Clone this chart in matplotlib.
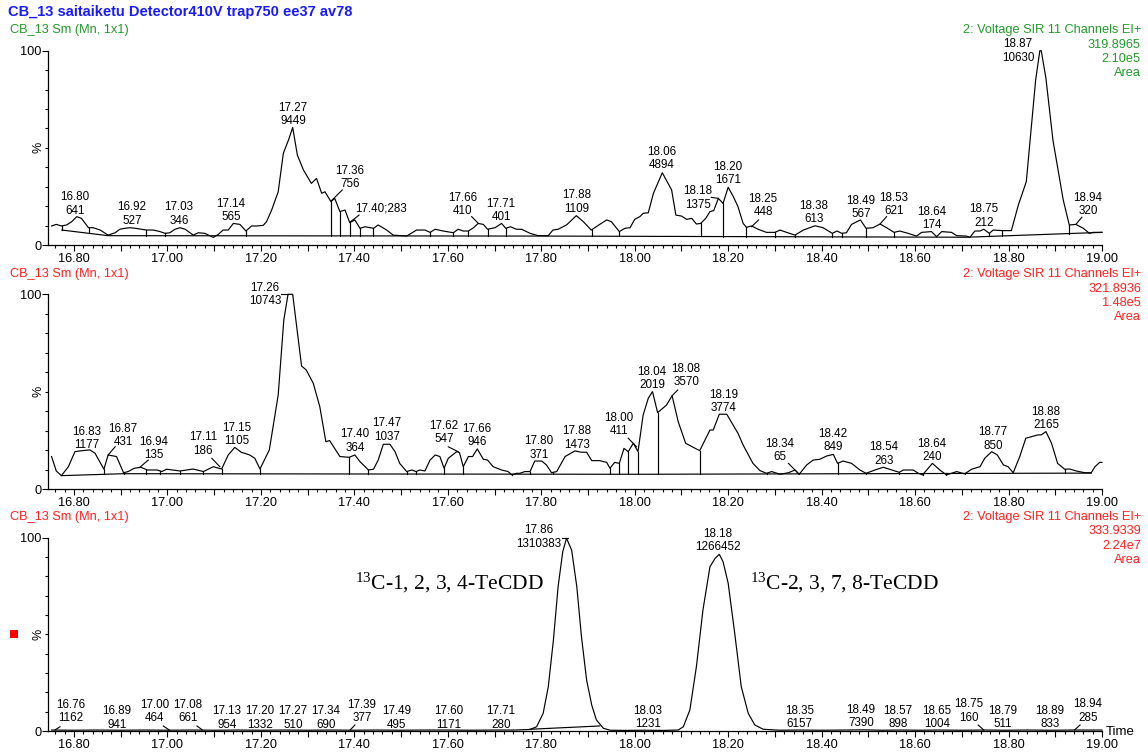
import numpy as np
import matplotlib
matplotlib.use("Agg")
import matplotlib.pyplot as plt
from matplotlib.ticker import MultipleLocator, FuncFormatter
from matplotlib.patches import Rectangle

plt.rcParams['font.family'] = ['Liberation Sans', 'DejaVu Sans']
plt.rcParams['mathtext.fontset'] = 'custom'
plt.rcParams['mathtext.rm'] = 'Liberation Serif'
plt.rcParams['mathtext.it'] = 'Liberation Serif:italic'

# ---------------- DATA ----------------
title = "CB_13 saitaiketu Detector410V trap750 ee37 av78"
sub_header = "CB_13 Sm (Mn, 1x1)"
channel = "2: Voltage SIR 11 Channels EI+"
masses = ["319.8965", "321.8936", "333.9339"]
scales = ["2.10e5", "1.48e5", "2.24e7"]

# Panel 1 (m/z 319.8965)
p1_time = [16.752, 16.762, 16.773, 16.784, 16.795, 16.806, 16.816, 16.831, 16.841, 16.856, 16.873, 16.888,
           16.898, 16.909, 16.920, 16.931, 16.945, 16.955, 16.970, 16.984, 16.995, 17.005, 17.016, 17.027,
           17.038, 17.055, 17.066, 17.080, 17.098, 17.109, 17.119, 17.130, 17.141, 17.155, 17.168, 17.180,
           17.191, 17.205, 17.212, 17.223, 17.237, 17.248, 17.259, 17.268, 17.278, 17.291, 17.308, 17.319,
           17.330, 17.337, 17.350, 17.358, 17.369, 17.380, 17.390, 17.401, 17.412, 17.423, 17.441, 17.451,
           17.469, 17.483, 17.512, 17.533, 17.551, 17.562, 17.573, 17.590, 17.612, 17.622, 17.633, 17.644,
           17.655, 17.665, 17.676, 17.685, 17.701, 17.715, 17.724, 17.734, 17.747, 17.758, 17.776, 17.793,
           17.815, 17.825, 17.836, 17.854, 17.875, 17.890, 17.907, 17.925, 17.940, 17.950, 17.967, 17.979,
           17.990, 18.000, 18.011, 18.018, 18.029, 18.040, 18.059, 18.079, 18.088, 18.100, 18.111, 18.122,
           18.132, 18.141, 18.152, 18.161, 18.169, 18.179, 18.189, 18.200, 18.211, 18.221, 18.232, 18.239,
           18.250, 18.264, 18.282, 18.300, 18.311, 18.325, 18.343, 18.361, 18.386, 18.403, 18.423, 18.433,
           18.443, 18.453, 18.464, 18.483, 18.495, 18.510, 18.525, 18.539, 18.555, 18.567, 18.585, 18.603,
           18.614, 18.635, 18.646, 18.657, 18.678, 18.689, 18.710, 18.717, 18.728, 18.739, 18.747, 18.759,
           18.767, 18.787, 18.806, 18.821, 18.838, 18.858, 18.867, 18.870, 18.880, 18.895, 18.917, 18.930,
           18.944, 18.960, 18.973, 18.981, 19.000]
p1_int = [9.8, 10.6, 9.8, 10.3, 12.0, 14.6, 13.7, 8.9, 8.9, 7.7, 5.1, 6.3,
          8.1, 8.6, 8.9, 8.6, 8.1, 7.7, 7.7, 6.9, 6.0, 6.3, 8.1, 8.9,
          8.1, 5.1, 6.3, 6.0, 3.9, 5.5, 7.7, 7.7, 11.1, 10.6, 7.2, 9.8,
          9.8, 10.1, 12.0, 18.0, 27.4, 47.2, 54.0, 60.5, 46.3, 38.6, 31.7, 34.3,
          26.6, 27.4, 22.3, 24.0, 17.2, 18.0, 11.5, 12.9, 8.6, 9.4, 8.6, 10.3,
          7.7, 5.1, 4.6, 7.7, 7.7, 6.5, 8.1, 7.2, 6.3, 8.1, 7.2, 7.2,
          8.9, 11.1, 10.6, 8.1, 8.9, 11.1, 8.6, 9.4, 8.1, 8.1, 6.0, 4.8,
          4.8, 7.7, 8.1, 10.3, 15.1, 12.0, 7.7, 10.6, 12.9, 12.0, 6.9, 8.6,
          8.9, 13.2, 14.6, 16.3, 16.6, 26.6, 37.2, 28.3, 15.4, 14.9, 13.2, 13.7,
          10.8, 11.1, 13.7, 17.2, 17.7, 24.0, 21.4, 29.7, 24.9, 19.7, 11.1, 9.1,
          9.8, 8.1, 6.5, 6.5, 7.7, 6.5, 5.1, 7.7, 9.9, 8.9, 6.0, 7.2,
          6.0, 6.3, 10.6, 12.9, 8.6, 8.9, 10.8, 8.9, 6.5, 7.2, 6.0, 4.6,
          6.5, 6.9, 4.3, 6.9, 6.5, 4.8, 4.6, 3.9, 7.2, 7.2, 8.1, 6.0,
          7.7, 7.4, 7.4, 20.6, 32.6, 84.9, 100.0, 100.0, 85.8, 54.0, 23.2, 10.3,
          10.6, 8.6, 6.0, 6.5, 6.5]
p1_base_t = [16.774, 16.873, 17.800, 18.710, 19.000]
p1_base_y = [7.7, 4.8, 4.6, 4.0, 6.5]
p1_drops = [16.774, 16.833, 16.955, 16.995, 17.168, 17.350, 17.369, 17.390, 17.412, 17.440,
            17.562, 17.612, 17.644, 17.685, 17.724, 17.908, 17.967, 18.141, 18.189, 18.239,
            18.300, 18.343, 18.423, 18.443, 18.495, 18.555, 18.646, 18.759, 18.787, 18.930]
p1_rt = ["16.80", "16.92", "17.03", "17.14", "17.27", "17.36", "17.40", "17.66", "17.71", "17.88",
         "18.06", "18.18", "18.20", "18.25", "18.38", "18.49", "18.53", "18.64", "18.75", "18.87", "18.94"]
p1_area = ["641", "527", "346", "565", "9449", "756", "283", "410", "401", "1109",
           "4894", "1375", "1671", "448", "613", "567", "621", "174", "212", "10630", "320"]

# Panel 2 (m/z 321.8936)
p2_time = [16.752, 16.762, 16.773, 16.788, 16.802, 16.813, 16.834, 16.845, 16.864, 16.873, 16.891, 16.906,
           16.916, 16.929, 16.943, 16.957, 16.978, 16.988, 16.998, 17.027, 17.055, 17.077, 17.098, 17.116,
           17.130, 17.144, 17.158, 17.176, 17.187, 17.198, 17.218, 17.237, 17.249, 17.258, 17.268, 17.287,
           17.297, 17.312, 17.326, 17.339, 17.347, 17.369, 17.389, 17.401, 17.412, 17.430, 17.441, 17.451,
           17.462, 17.476, 17.487, 17.497, 17.512, 17.523, 17.532, 17.540, 17.551, 17.562, 17.573, 17.583,
           17.592, 17.601, 17.619, 17.625, 17.633, 17.644, 17.653, 17.663, 17.676, 17.685, 17.697, 17.715,
           17.729, 17.737, 17.747, 17.754, 17.765, 17.776, 17.786, 17.801, 17.811, 17.822, 17.833, 17.851,
           17.872, 17.886, 17.897, 17.908, 17.925, 17.940, 17.947, 17.957, 17.967, 17.977, 17.986, 17.997,
           18.007, 18.018, 18.029, 18.038, 18.049, 18.068, 18.080, 18.093, 18.109, 18.139, 18.161, 18.168,
           18.181, 18.197, 18.221, 18.232, 18.253, 18.268, 18.282, 18.293, 18.311, 18.329, 18.343, 18.352,
           18.368, 18.382, 18.396, 18.411, 18.425, 18.434, 18.446, 18.464, 18.482, 18.495, 18.514, 18.532,
           18.550, 18.566, 18.575, 18.596, 18.607, 18.616, 18.637, 18.653, 18.667, 18.678, 18.689, 18.706,
           18.721, 18.739, 18.749, 18.764, 18.776, 18.789, 18.799, 18.810, 18.824, 18.837, 18.849, 18.863,
           18.870, 18.880, 18.892, 18.905, 18.920, 18.931, 18.945, 18.963, 18.977, 18.985, 18.995, 19.000]
p2_int = [16.8, 9.4, 7.0, 11.6, 19.3, 19.7, 20.2, 18.5, 10.3, 17.6, 16.8, 8.5,
          9.1, 10.8, 11.3, 9.9, 9.9, 9.1, 10.3, 9.4, 10.4, 9.1, 11.6, 10.4,
          17.6, 21.5, 19.0, 17.6, 15.9, 10.4, 20.2, 48.4, 86.8, 100.0, 100.0, 63.2,
          61.2, 54.4, 42.4, 24.4, 25.0, 16.8, 16.4, 17.6, 14.2, 9.9, 10.3, 15.0,
          23.1, 23.1, 19.3, 13.3, 9.1, 9.9, 9.1, 9.9, 9.4, 15.0, 17.6, 16.8,
          10.8, 15.9, 19.3, 18.8, 11.6, 16.8, 16.8, 20.7, 15.4, 15.0, 11.6, 9.9,
          9.1, 7.4, 8.2, 8.2, 9.1, 9.1, 14.5, 14.5, 12.5, 8.5, 9.1, 16.8,
          19.7, 19.0, 19.0, 14.7, 14.7, 13.8, 10.8, 13.8, 13.3, 21.0, 19.3, 23.6,
          19.3, 38.1, 46.7, 50.1, 39.3, 43.2, 48.0, 34.7, 23.6, 19.8, 30.4, 30.4,
          38.5, 38.5, 28.7, 22.7, 13.3, 9.6, 8.2, 9.1, 7.7, 8.5, 9.9, 7.7,
          12.5, 15.0, 15.4, 17.1, 17.9, 13.3, 14.5, 13.3, 9.9, 8.2, 9.9, 11.3,
          9.9, 8.7, 9.9, 9.9, 8.2, 7.4, 13.3, 9.9, 7.4, 8.2, 9.1, 7.9,
          10.3, 11.6, 15.9, 19.3, 17.6, 12.5, 11.6, 8.5, 16.8, 26.2, 27.0, 27.9,
          27.9, 29.6, 23.6, 13.3, 10.3, 10.4, 9.4, 8.5, 8.5, 11.6, 13.8, 13.8]
p2_base_t = [16.773, 16.906, 18.000, 18.977]
p2_base_y = [7.0, 8.0, 7.7, 8.3]
p2_drops = [16.864, 16.906, 16.955, 16.985, 17.027, 17.077, 17.116, 17.198, 17.389, 17.430,
            17.512, 17.532, 17.592, 17.633, 17.737, 17.776, 17.826, 17.947, 17.967, 17.986,
            18.007, 18.049, 18.139, 18.282, 18.352, 18.434, 18.495, 18.566, 18.616, 18.667,
            18.706, 18.810, 18.920, 18.977]
p2_rt = ["16.83", "16.87", "16.94", "17.11", "17.15", "17.26", "17.40", "17.47", "17.62", "17.66",
         "17.80", "17.88", "18.00", "18.04", "18.08", "18.19", "18.34", "18.42", "18.54", "18.64",
         "18.77", "18.88"]
p2_area = ["1177", "431", "135", "186", "1105", "10743", "364", "1037", "547", "946",
           "371", "1473", "411", "2019", "3570", "3774", "65", "849", "263", "240",
           "850", "2165"]

# Panel 3 (m/z 333.9339)
p3_time = [16.752, 16.800, 16.850, 16.900, 16.950, 17.000, 17.050, 17.100, 17.150, 17.200, 17.250,
           17.300, 17.350, 17.400, 17.450, 17.500, 17.550, 17.600, 17.650, 17.700, 17.745,
           17.776, 17.790, 17.804, 17.815, 17.826, 17.836, 17.846, 17.854, 17.865, 17.876, 17.886,
           17.897, 17.908, 17.918, 17.933, 17.947, 17.980, 18.020, 18.060,
           18.093, 18.104, 18.118, 18.132, 18.146, 18.161, 18.172, 18.181, 18.189, 18.200, 18.214,
           18.228, 18.243, 18.257, 18.275, 18.310, 18.350, 18.400, 18.450, 18.490, 18.530, 18.570,
           18.610, 18.650, 18.700, 18.750, 18.790, 18.840, 18.890, 18.940, 19.000]
p3_int = [0.5, 0.4, 0.5, 0.4, 0.5, 0.4, 0.5, 0.4, 0.5, 0.4, 0.5,
          0.4, 0.5, 0.4, 0.5, 0.4, 0.5, 0.5, 0.4, 0.5, 0.5,
          0.8, 2.2, 9.1, 22.9, 47.1, 74.7, 92.8, 99.7, 93.6, 74.7, 48.8,
          26.4, 13.4, 5.7, 1.4, 0.4, 0.3, 0.4, 0.3,
          0.5, 2.2, 10.9, 33.3, 62.6, 85.0, 89.3, 91.4, 87.6, 76.4, 50.5,
          22.9, 9.1, 3.1, 0.9, 0.4, 0.5, 0.4, 0.5, 0.6, 0.4, 0.5,
          0.4, 0.5, 0.4, 0.5, 0.4, 0.5, 0.4, 0.5, 0.5]
p3_base_t = [17.776, 17.925]
p3_base_y = [0.9, 2.6]
p3_rt = ["16.76", "16.89", "17.00", "17.08", "17.13", "17.20", "17.27", "17.34", "17.39", "17.49",
         "17.60", "17.71", "17.86", "18.03", "18.18", "18.35", "18.49", "18.57", "18.65", "18.75",
         "18.79", "18.89", "18.94"]
p3_area = ["1162", "941", "464", "661", "954", "1332", "510", "690", "377", "495",
           "1171", "280", "1310383", "1231", "1266452", "6157", "7390", "898", "1004", "160",
           "511", "833", "285"]
compounds = ["1, 2, 3, 4-TeCDD", "2, 3, 7, 8-TeCDD"]

# ---------------- LAYOUT (label placement, not data) ----------------
p1_lab_pos = [(16.802, 21.1), (16.924, 16.0), (17.025, 16.0), (17.136, 17.8), (17.269, 67.2),
              (17.391, 34.7), (17.401, 19.0), (17.632, 20.8), (17.714, 17.8), (17.876, 22.1),
              (18.058, 44.5), (18.135, 24.2), (18.200, 36.8), (18.275, 20.3), (18.384, 16.7),
              (18.484, 19.3), (18.555, 20.8), (18.636, 13.6), (18.747, 14.9), (18.820, 99.8),
              (18.970, 20.8)]
p1_leaders = [(17.350, 22.6, 17.374, 28.3), (17.391, 11.8, 17.410, 15.4), (17.651, 14.6, 17.665, 11.2),
              (18.164, 24.5, 18.179, 24.0), (18.250, 9.4, 18.265, 12.9), (18.525, 10.8, 18.539, 14.6),
              (18.944, 10.6, 18.957, 14.3)]
p2_lab_pos = [(16.828, 26.0), (16.905, 27.6), (16.971, 20.9), (17.076, 23.2), (17.149, 28.1),
              (17.209, 99.9), (17.401, 24.8), (17.470, 30.4), (17.592, 29.1), (17.662, 27.6),
              (17.795, 21.2), (17.876, 26.3), (17.966, 33.2), (18.037, 56.8), (18.110, 58.4),
              (18.191, 45.0), (18.311, 19.9), (18.424, 25.0), (18.533, 18.1), (18.636, 19.9),
              (18.767, 25.8), (18.880, 36.3)]
p2_leaders = [(16.873, 17.6, 16.888, 21.8), (16.941, 11.3, 16.959, 15.0), (17.095, 15.9, 17.112, 11.6),
              (17.244, 100.0, 17.258, 100.0), (17.601, 21.8, 17.622, 19.3), (17.986, 26.2, 18.004, 21.8),
              (18.080, 48.0, 18.092, 50.9), (18.329, 13.3, 18.352, 7.7)]
p3_lab_pos = [(16.794, 10.1), (16.892, 6.7), (16.973, 10.1), (17.044, 10.1), (17.127, 6.7),
              (17.198, 6.7), (17.269, 6.7), (17.339, 6.7), (17.416, 10.1), (17.491, 6.7),
              (17.603, 6.7), (17.714, 6.7), (17.795, 100.4), (18.028, 7.0), (18.178, 98.6),
              (18.352, 7.0), (18.484, 7.5), (18.563, 7.0), (18.647, 7.0), (18.715, 10.3),
              (18.788, 7.0), (18.889, 7.0), (18.970, 10.3)]
p3_leaders = [(16.759, 0.5, 16.770, 2.2), (16.991, 2.6, 17.004, 0.5), (17.063, 2.6, 17.075, 0.5),
              (17.391, 0.5, 17.401, 3.1), (17.844, 100.0, 17.858, 100.0), (18.735, 3.1, 18.747, 0.5),
              (18.941, 0.5, 18.953, 3.1)]

W, H = 1148, 756
GREEN = '#22992a'
RED = '#ff2222'
BLUE = '#1a1aff'

fig = plt.figure(figsize=(W / 100, H / 100), dpi=100)

def fx(x):
    return x / W

def fy(y):
    return 1 - y / H

x_left_px, x_right_px = 47.7, 1102.0
panels = [(50.7, 245.0), (294.3, 489.3), (537.7, 731.0)]
header_y = [(30, [30.5, 45, 59.5, 73.5]), (274, [274, 288.5, 302.7, 316.7]), (516.7, [516.7, 531.5, 545.7, 560])]
header_col = [GREEN, RED, RED]

fmt = FuncFormatter(lambda v, p: f"{v:.2f}" if int(round(v * 100)) % 20 == 0 else "")

axes = []
for i, (ytop, ybot) in enumerate(panels):
    ax = fig.add_axes([fx(x_left_px), fy(ybot), (x_right_px - x_left_px) / W, (ybot - ytop) / H])
    ax.set_xlim(16.7437, 19.0)
    ax.set_ylim(0, 100)
    ax.patch.set_alpha(0)
    for s in ['top', 'right']:
        ax.spines[s].set_visible(False)
    for s in ['left', 'bottom']:
        ax.spines[s].set_linewidth(0.9)
    ax.xaxis.set_major_locator(MultipleLocator(0.1))
    ax.xaxis.set_minor_locator(MultipleLocator(0.02))
    ax.xaxis.set_major_formatter(fmt)
    ax.yaxis.set_major_locator(plt.FixedLocator([0, 100]))
    ax.yaxis.set_minor_locator(MultipleLocator(10))
    ax.set_yticklabels(["0", "100"])
    ax.tick_params(axis='x', which='major', length=4, width=0.8, pad=1.5, labelsize=9.2)
    ax.tick_params(axis='x', which='minor', length=2.2, width=0.8)
    ax.tick_params(axis='y', which='major', length=4, width=0.8, pad=0.5, labelsize=9.2)
    ax.tick_params(axis='y', which='minor', length=2.2, width=0.8)
    ax.text(-0.0092, 0.5, "%", rotation=90, ha='center', va='center', fontsize=9, transform=ax.transAxes)
    axes.append(ax)
    # headers
    fig.text(fx(10), fy(header_y[i][0]), sub_header, color=header_col[i], fontsize=9.2, va='center', ha='left')
    rights = [channel, masses[i], scales[i], "Area"]
    for txt, yy in zip(rights, header_y[i][1]):
        fig.text(fx(1141), fy(yy), txt, color=header_col[i], fontsize=9.2, va='center', ha='right')

fig.text(fx(8), fy(12), title, color=BLUE, fontsize=10.5, fontweight='bold', va='center', ha='left')

LW = 0.85
def draw_panel(ax, t, y, bt, by, drops, rts, areas, pos, leaders, single=()):
    ax.plot(t, y, color='black', lw=LW, clip_on=False)
    ax.plot(bt, by, color='black', lw=LW, clip_on=False)
    for d in drops:
        top = np.interp(d, t, y)
        bot = np.interp(d, bt, by)
        ax.plot([d, d], [bot, top], color='black', lw=LW)
    for k, (rt, ar) in enumerate(zip(rts, areas)):
        px, py = pos[k]
        if k in single:
            ax.text(px, py, f"{rt};{ar}", ha='left', va='center', fontsize=8.4)
        else:
            ax.text(px, py, f"{rt}\n{ar}", ha='center', va='center', fontsize=8.4, linespacing=1.18)
    for (a, b, c, d) in leaders:
        ax.plot([a, c], [b, d], color='black', lw=0.8, clip_on=False)

draw_panel(axes[0], p1_time, p1_int, p1_base_t, p1_base_y, p1_drops, p1_rt, p1_area, p1_lab_pos, p1_leaders, single=(6,))
draw_panel(axes[1], p2_time, p2_int, p2_base_t, p2_base_y, p2_drops, p2_rt, p2_area, p2_lab_pos, p2_leaders)
draw_panel(axes[2], p3_time, p3_int, p3_base_t, p3_base_y, [], p3_rt, p3_area, p3_lab_pos, p3_leaders)

for txt, xpos in zip(compounds, [17.401, 18.247]):
    axes[2].text(xpos, 76.6, r"$^{13}$" + "C-" + txt, ha='left', va='center', fontsize=15.5,
                 family='Liberation Serif')

fig.text(fx(1106), fy(732), "Time", fontsize=9.5, va='center', ha='left')
fig.patches.append(Rectangle((fx(10), fy(637.7)), 7.5 / W, 7.5 / H, transform=fig.transFigure,
                             facecolor='#ff0000', edgecolor='none'))

fig.savefig("out.png", dpi=100)
